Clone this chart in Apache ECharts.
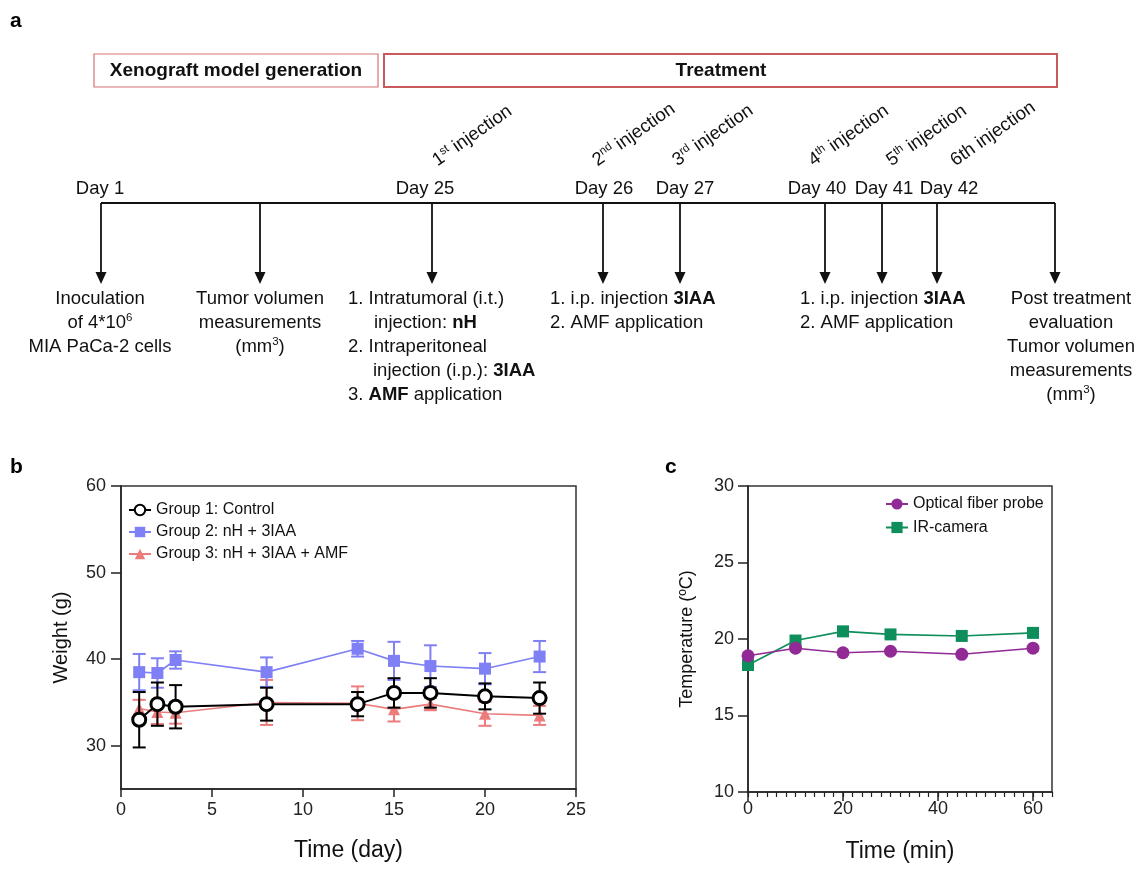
<!DOCTYPE html>
<html><head><meta charset="utf-8">
<script src="https://cdn.jsdelivr.net/npm/echarts@6/dist/echarts.min.js"></script>
<style>html,body{margin:0;padding:0;background:#fff}#c{width:1140px;height:869px}</style>
</head><body><div id="c"></div>
<script>
const F = 'Liberation Sans, Arial, Helvetica, sans-serif';

// ---------- Panel b data: body weight ----------
const days = [1, 2, 3, 8, 13, 15, 17, 20, 23];
const controlWeight = [33.0, 34.8, 34.5, 34.8, 34.8, 36.1, 36.1, 35.7, 35.5];
const controlSD     = [3.2, 2.5, 2.5, 1.9, 1.4, 1.7, 1.7, 1.5, 1.8];
const nh3iaaWeight  = [38.5, 38.4, 39.9, 38.5, 41.2, 39.8, 39.2, 38.9, 40.3];
const nh3iaaSD      = [2.1, 1.7, 1.0, 1.7, 0.9, 2.2, 2.4, 1.8, 1.8];
const amfWeight     = [34.3, 33.9, 33.8, 35.0, 34.9, 34.2, 34.8, 33.7, 33.5];
const amfSD         = [1.0, 1.4, 1.25, 2.6, 1.95, 1.4, 0.7, 1.4, 1.1];
const bYTicks = [30, 40, 50, 60];
const groupNames = ['Group 1: Control', 'Group 2: nH + 3IAA', 'Group 3: nH + 3IAA + AMF'];

// ---------- Panel c data: temperature ----------
const times = [0, 10, 20, 30, 45, 60];
const probeTemp = [18.9, 19.4, 19.1, 19.2, 19.0, 19.4];
const irTemp    = [18.3, 19.9, 20.5, 20.3, 20.2, 20.4];
const cXTicks = [0, 20, 40, 60];
const tempNames = ['Optical fiber probe', 'IR-camera'];

// ---------- Panel a texts ----------
const phaseTitles = ['Xenograft model generation', 'Treatment'];
const dayLabels = ['Day 1', 'Day 25', 'Day 26', 'Day 27', 'Day 40', 'Day 41', 'Day 42'];
const injectionOrdinals = [['1', 'st'], ['2', 'nd'], ['3', 'rd'], ['4', 'th'], ['5', 'th'], ['6th', '']];
const blockInoculation = ['{n|Inoculation}', '{n|of 4*10}{s|6}', '{n|MIA PaCa-2 cells}'];
const blockTumor = ['{n|Tumor volumen}', '{n|measurements}', '{n|(mm}{s|3}{n|)}'];
const blockFirst = ['{n|1. Intratumoral (i.t.)}', '{n|injection: }{b|nH}', '{n|2. Intraperitoneal}',
                    '{n|injection (i.p.): }{b|3IAA}', '{n|3. }{b|AMF}{n| application}'];
const blockRepeat = ['{n|1. i.p. injection }{b|3IAA}', '{n|2. AMF application}'];
const blockPost = ['{n|Post treatment}', '{n|evaluation}', '{n|Tumor volumen}', '{n|measurements}', '{n|(mm}{s|3}{n|)}'];

// ---------- layout of panel a (diagram) ----------
const arrowX = [101, 260, 432, 603, 680, 825, 882, 937, 1055];
const dayLabelX = [100, 425, 604, 685, 817, 884, 949];
const injStartX = [440, 600, 680, 816, 894, 958];
const lineY = 203, arrowTipY = 284, textTopY = 298, lineStep = 24;

const rich = {
  n: {fontSize: 18.5, fontFamily: F, fill: '#111', lineHeight: 20, verticalAlign: 'bottom'},
  b: {fontSize: 18.5, fontFamily: F, fontWeight: 'bold', fill: '#111', lineHeight: 20, verticalAlign: 'bottom'},
  s: {fontSize: 11.5, fontFamily: F, fill: '#111', lineHeight: 12, verticalAlign: 'top'}
};
function txt(x, y, text, align, extra) {
  return Object.assign({
    type: 'text', x: x, y: y, silent: true,
    style: {text: text, rich: rich, align: align, verticalAlign: 'middle', textAlign: align,
            textVerticalAlign: 'middle', fill: '#111', font: '18.5px ' + F}
  }, extra || {});
}
const graphics = [];
// panel letters
[['a', 10, 21], ['b', 10, 467], ['c', 665, 467]].forEach(function (p) {
  graphics.push({type: 'text', x: p[1], y: p[2], silent: true,
    style: {text: p[0], font: 'bold 21px ' + F, fill: '#000', align: 'left', verticalAlign: 'middle',
            textAlign: 'left', textVerticalAlign: 'middle'}});
});
// phase boxes
graphics.push({type: 'rect', shape: {x: 94, y: 54, width: 284, height: 33}, silent: true,
  style: {fill: 'none', stroke: '#d77474', lineWidth: 1.2}});
graphics.push({type: 'rect', shape: {x: 384, y: 54, width: 673, height: 33}, silent: true,
  style: {fill: 'none', stroke: '#c85a5e', lineWidth: 2}});
[[236, phaseTitles[0]], [721, phaseTitles[1]]].forEach(function (p) {
  graphics.push({type: 'text', x: p[0], y: 70.5, silent: true,
    style: {text: p[1], font: 'bold 19px ' + F, fill: '#111', align: 'center', verticalAlign: 'middle',
            textAlign: 'center', textVerticalAlign: 'middle'}});
});
// main timeline
graphics.push({type: 'line', shape: {x1: arrowX[0], y1: lineY, x2: arrowX[arrowX.length - 1], y2: lineY},
  silent: true, style: {stroke: '#111', lineWidth: 2}});
arrowX.forEach(function (x) {
  graphics.push({type: 'line', shape: {x1: x, y1: lineY, x2: x, y2: arrowTipY - 10}, silent: true,
    style: {stroke: '#111', lineWidth: 1.8}});
  graphics.push({type: 'polygon', shape: {points: [[x - 5.5, arrowTipY - 12], [x + 5.5, arrowTipY - 12], [x, arrowTipY]]},
    silent: true, style: {fill: '#111'}});
});
dayLabels.forEach(function (d, i) {
  graphics.push(txt(dayLabelX[i], 188, '{n|' + d + '}', 'center'));
});
injectionOrdinals.forEach(function (o, i) {
  const t = '{n|' + o[0] + '}' + (o[1] ? '{s|' + o[1] + '}' : '') + '{n| injection}';
  graphics.push({type: 'text', x: injStartX[i], y: 170, rotation: 35 * Math.PI / 180, silent: true,
    style: {text: t, rich: rich, align: 'left', verticalAlign: 'bottom', textAlign: 'left', textVerticalAlign: 'bottom',
            fill: '#111', font: '18.5px ' + F}});
});
function block(lines, x, align, indents) {
  lines.forEach(function (l, i) {
    graphics.push(txt(x + (indents ? indents[i] : 0), textTopY + i * lineStep, l, align));
  });
}
block(blockInoculation, 100, 'center');
block(blockTumor, 260, 'center');
block(blockFirst, 348, 'left', [0, 26, 0, 25, 0]);
block(blockRepeat, 550, 'left');
block(blockRepeat, 800, 'left');
block(blockPost, 1071, 'center');

// ---------- error bar series ----------
function errSeries(color, means, sds, z) {
  return {
    type: 'custom', xAxisIndex: 0, yAxisIndex: 0, z: z, silent: true,
    data: days.map(function (d, i) { return [d, means[i] - sds[i], means[i] + sds[i]]; }),
    encode: {x: 0, y: [1, 2]},
    renderItem: function (params, api) {
      const x = api.value(0);
      const lo = api.coord([x, api.value(1)]);
      const hi = api.coord([x, api.value(2)]);
      const w = 6.5;
      const st = {stroke: color, lineWidth: 2};
      return {type: 'group', children: [
        {type: 'line', shape: {x1: lo[0], y1: lo[1], x2: hi[0], y2: hi[1]}, style: st},
        {type: 'line', shape: {x1: lo[0] - w, y1: lo[1], x2: lo[0] + w, y2: lo[1]}, style: st},
        {type: 'line', shape: {x1: hi[0] - w, y1: hi[1], x2: hi[0] + w, y2: hi[1]}, style: st}
      ]};
    }
  };
}
const BLUE = '#7f7ff6', RED = '#ec7c7c', BLACK = '#000', PURPLE = '#912a94', GREEN = '#0e8e5a';
const axisLineStyle = {color: '#222', width: 1.5};
const labelStyle = {fontSize: 18, fontFamily: F, color: '#222'};

const option = {
  backgroundColor: '#fff',
  animation: false,
  graphic: graphics,
  grid: [
    {left: 121, top: 486, width: 455, height: 303, show: true, borderColor: '#333', borderWidth: 1.5, containLabel: false},
    {left: 748, top: 486, width: 304, height: 306, show: true, borderColor: '#333', borderWidth: 1.5, containLabel: false}
  ],
  legend: [
    {orient: 'vertical', left: 123, top: 497, itemWidth: 22, itemHeight: 13, itemGap: 6, selectedMode: false,
     textStyle: {fontSize: 16, fontFamily: F, color: '#111', padding: [0, 0, 0, 0]}, data: groupNames},
    {orient: 'vertical', left: 880, top: 491, itemWidth: 22, itemHeight: 14, itemGap: 7.5, selectedMode: false,
     textStyle: {fontSize: 16, fontFamily: F, color: '#111'}, data: tempNames}
  ],
  xAxis: [
    {type: 'value', gridIndex: 0, min: 0, max: 25, interval: 5,
     axisLine: {show: true, onZero: false, lineStyle: axisLineStyle},
     axisTick: {show: true, length: 8, lineStyle: axisLineStyle},
     axisLabel: Object.assign({margin: 12}, labelStyle), splitLine: {show: false},
     name: 'Time (day)', nameLocation: 'middle', nameGap: 50,
     nameTextStyle: {fontSize: 23, fontFamily: F, color: '#111'}},
    {type: 'value', gridIndex: 1, min: 0, max: 64,
     axisLine: {show: true, onZero: false, lineStyle: axisLineStyle},
     axisTick: {show: true, length: 9, lineStyle: axisLineStyle, customValues: cXTicks},
     axisLabel: Object.assign({margin: 8, customValues: cXTicks}, labelStyle), splitLine: {show: false},
     name: 'Time (min)', nameLocation: 'middle', nameGap: 48,
     nameTextStyle: {fontSize: 23, fontFamily: F, color: '#111'}},
    {type: 'value', gridIndex: 1, min: 0, max: 64, interval: 2, position: 'bottom',
     axisLine: {show: false, onZero: false}, axisTick: {show: true, length: 5, lineStyle: {color: '#222', width: 1.2}},
     axisLabel: {show: false}, splitLine: {show: false}}
  ],
  yAxis: [
    {type: 'value', gridIndex: 0, min: 25, max: 60, interval: 5,
     axisLine: {show: true, onZero: false, lineStyle: axisLineStyle},
     axisTick: {show: true, length: 10, lineStyle: axisLineStyle, customValues: bYTicks},
     axisLabel: Object.assign({margin: 15, customValues: bYTicks}, labelStyle), splitLine: {show: false},
     name: 'Weight (g)', nameLocation: 'middle', nameGap: 50,
     nameTextStyle: {fontSize: 20, fontFamily: F, color: '#111'}},
    {type: 'value', gridIndex: 1, min: 10, max: 30, interval: 5,
     axisLine: {show: true, onZero: false, lineStyle: axisLineStyle},
     axisTick: {show: true, length: 10, lineStyle: axisLineStyle},
     axisLabel: Object.assign({margin: 14}, labelStyle), splitLine: {show: false},
     name: 'Temperature (ºC)', nameLocation: 'middle', nameGap: 52,
     nameTextStyle: {fontSize: 18, fontFamily: F, color: '#111'}}
  ],
  series: [
    errSeries(RED, amfWeight, amfSD, 2),
    {type: 'line', name: groupNames[2], xAxisIndex: 0, yAxisIndex: 0, z: 3,
     data: days.map(function (d, i) { return [d, amfWeight[i]]; }),
     symbol: 'triangle', symbolSize: 12, itemStyle: {color: RED}, lineStyle: {color: RED, width: 1.6}},
    errSeries(BLUE, nh3iaaWeight, nh3iaaSD, 4),
    {type: 'line', name: groupNames[1], xAxisIndex: 0, yAxisIndex: 0, z: 5,
     data: days.map(function (d, i) { return [d, nh3iaaWeight[i]]; }),
     symbol: 'rect', symbolSize: 12, itemStyle: {color: BLUE}, lineStyle: {color: BLUE, width: 1.6}},
    errSeries(BLACK, controlWeight, controlSD, 6),
    {type: 'line', name: groupNames[0], xAxisIndex: 0, yAxisIndex: 0, z: 7,
     data: days.map(function (d, i) { return [d, controlWeight[i]]; }),
     symbol: 'circle', symbolSize: 13, itemStyle: {color: '#fff', borderColor: BLACK, borderWidth: 3},
     lineStyle: {color: BLACK, width: 2}},
    {type: 'line', name: tempNames[0], xAxisIndex: 1, yAxisIndex: 1, z: 5,
     data: times.map(function (t, i) { return [t, probeTemp[i]]; }),
     symbol: 'circle', symbolSize: 13, itemStyle: {color: PURPLE}, lineStyle: {color: PURPLE, width: 1.6}},
    {type: 'line', name: tempNames[1], xAxisIndex: 1, yAxisIndex: 1, z: 4,
     data: times.map(function (t, i) { return [t, irTemp[i]]; }),
     symbol: 'rect', symbolSize: 12, itemStyle: {color: GREEN}, lineStyle: {color: GREEN, width: 1.6}}
  ]
};
const chart = echarts.init(document.getElementById('c'), null, {renderer: 'canvas'});
chart.setOption(option);
</script></body></html>
